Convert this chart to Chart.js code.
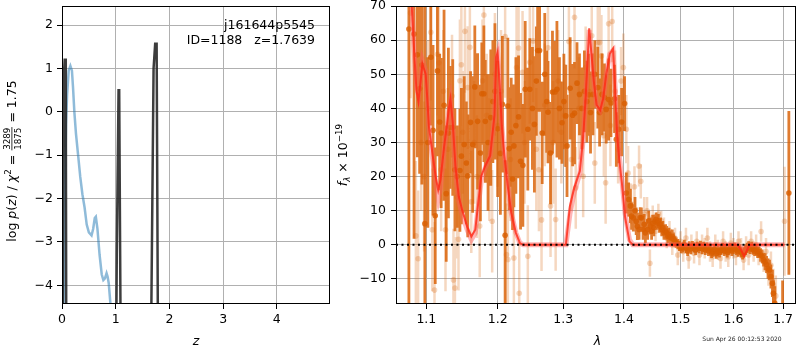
<!DOCTYPE html>
<html>
<head>
<meta charset="utf-8">
<script src="https://cdn.jsdelivr.net/npm/chart.js@4.4.1/dist/chart.umd.min.js"></script>
<style>
  html, body { margin: 0; padding: 0; background: #fff; }
  #wrap { position: relative; width: 800px; height: 350px; overflow: hidden; }
  #pz { position: absolute; left: 0; top: 0; }
  #spec { position: absolute; left: 331px; top: 0; }
</style>
</head>
<body>
<div id="wrap">
  <canvas id="pz" width="331" height="350"></canvas>
  <canvas id="spec" width="469" height="350"></canvas>
</div>
<script>
// ---- left panel: log p(z) and chi2 curves ----
const pzGrid  = [0.005, 0.03, 0.05, 0.07, 0.085, 0.99, 1.02, 1.053, 1.065, 1.11, 1.63, 1.705, 1.735, 1.762, 1.80, 4.99];
const pzLogP  = [-9, 0.73, 1.2, 1.2, -9, -9, -3.3, 0.5, 0.5, -9, -9, 1.0, 1.57, 1.57, -9, -9];

const chi2Grid = [0.025, 0.05, 0.075, 0.095, 0.125, 0.156, 0.185, 0.205, 0.23, 0.26, 0.30, 0.34, 0.38, 0.42, 0.46, 0.50,
                  0.55, 0.58, 0.61, 0.63, 0.66, 0.70, 0.74, 0.77, 0.80, 0.83, 0.85, 0.87, 0.90, 0.93];
const chi2Vals = [-5, -2.2, -0.3, 0.4, 0.95, 1.06, 0.95, 0.57, 0.0, -0.5, -1.0, -1.5, -1.9, -2.2, -2.6, -2.78,
                  -2.85, -2.7, -2.45, -2.42, -2.7, -3.3, -3.75, -3.88, -3.84, -3.72, -3.8, -3.95, -4.4, -5];

const zTicks    = [0, 1, 2, 3, 4];
const logPTicks = [-4, -3, -2, -1, 0, 1, 2];

// ---- right panel: spectrum ----
const specWave = [1.0768, 1.0836, 1.088, 1.091, 1.094, 1.098, 1.102, 1.106, 1.109, 1.112, 1.115, 1.118, 1.120, 1.124, 1.127, 1.130,
  1.132, 1.136, 1.139, 1.142, 1.146, 1.148, 1.152, 1.155, 1.157, 1.161, 1.164, 1.167, 1.171, 1.175, 1.177, 1.180,
  1.182, 1.186, 1.190, 1.193, 1.196, 1.200, 1.204, 1.207, 1.211, 1.215, 1.217, 1.220, 1.222, 1.224, 1.227, 1.231,
  1.234, 1.2375, 1.241, 1.245, 1.248, 1.252, 1.255, 1.258, 1.260, 1.263, 1.267, 1.271, 1.274, 1.276, 1.280, 1.283,
  1.287, 1.290, 1.294, 1.298, 1.301, 1.304, 1.306, 1.311, 1.315, 1.318, 1.322, 1.326, 1.330, 1.334, 1.338, 1.341,
  1.344, 1.348, 1.351, 1.356, 1.359, 1.363, 1.367, 1.370, 1.374, 1.378, 1.384, 1.387, 1.391, 1.396, 1.401,
  1.404, 1.408, 1.411, 1.413, 1.416, 1.419, 1.421, 1.423, 1.426, 1.428, 1.430, 1.433, 1.435, 1.437, 1.441, 1.443,
  1.446, 1.448, 1.450, 1.452, 1.454, 1.456, 1.458, 1.460, 1.462, 1.464, 1.466, 1.468, 1.470, 1.473, 1.475, 1.477,
  1.479, 1.481, 1.483, 1.485, 1.487, 1.490, 1.492, 1.495, 1.498, 1.501, 1.504, 1.507, 1.510, 1.513, 1.516, 1.519,
  1.522, 1.525, 1.528, 1.531, 1.534, 1.537, 1.540, 1.543, 1.546, 1.549, 1.552, 1.555, 1.558, 1.561, 1.564, 1.567,
  1.570, 1.573, 1.576, 1.579, 1.582, 1.585, 1.588, 1.591, 1.594, 1.597, 1.600, 1.603, 1.606, 1.609, 1.612, 1.615,
  1.618, 1.621, 1.624, 1.627, 1.630, 1.633, 1.636, 1.639, 1.642, 1.645, 1.648, 1.651, 1.654, 1.657, 1.660, 1.663,
  1.666, 1.669, 1.672, 1.675, 1.678, 1.680, 1.683, 1.699, 1.712];
const specFlux = [63.3, 61.8, 55.7, 45.8, 52.7, 6.2, 30, 55, 33.6, 8.5, 51, 36, 32.8, 40.9, 15, 32.8,
  34.4, 34.4, 22, 20, 21.8, 26, 29.4, 24, 20.2, 35.9, 29.4, 46.3, 36.2, 26.9, 44.3, 44.3,
  36.2, 30, 37.3, 42, 45, 34, 26.8, 41.2, 2.8, 40.7, 28.2, 33, 19.3, 29, 35, 37.5,
  24.5, 23.3, 45.6, 33.9, 45.6, 40, 35.3, 48, 57, 57, 32.8, 50, 42, 38.9, 26.9, 44.8,
  44.8, 45.6, 40, 35.8, 42, 37.8, 29, 45.9, 38, 38.6, 47.4, 44.1, 40, 45, 42, 44,
  38.8, 44.1, 50, 46.1, 38.8, 44.1, 43.2, 39.7, 42.6, 41.6, 42.8, 30.9, 33.9, 36, 41.4,
  15.2, 13.3, 11.4, 8.4, 7.9, 10, 6.9, 5.4, 4.5, 8, 7.9, 4.5, 6, 3.5, 4.5, 7,
  5.5, 4, 6.3, 5, 6.9, 7.5, 6.4, 7, 5.5, 6, 4.5, 5, 3.5, 4, 3.5, 2.5,
  3.0, 2.2, 2.0, 2.5, 1.6, 1.0, 0.6, 0.2, -0.3, -1.0, -0.8, 0.0, -1.0, -1.8, -0.5, -1.2,
  -0.4, -0.8, -1.5, -0.6, -1.0, -0.3, -1.2, -0.6, -1.5, -0.8, -1.8, -1.2, -2.4, -2.0, -1.3, -2.6,
  -1.8, -2.2, -1.5, -1.0, -1.8, -1.2, -2.2, -1.6, -1.0, -1.8, -1.2, -0.8, -1.5, -2.0, -1.4, -2.2,
  -2.8, -2.2, -1.5, -0.9, -0.5, -1.2, -0.6, -1.4, -1.8, -1.2, -2.4, -2.0, -3.0, -3.4, -4.4, -5.0,
  -5.8, -7.0, -7.4, -9.3, -11.3, -14.2, -17.2, -18.5, 15.2];
const specErr = [85, 60, 30, 25, 35, 70, 25, 20, 25, 20, 25, 20, 22, 28, 20, 25,
  18, 20, 18, 15, 18, 20, 20, 18, 18, 15, 20, 18, 20, 20, 15, 20,
  18, 20, 20, 18, 20, 20, 18, 20, 22, 20, 18, 16, 15, 18, 20, 18,
  20, 18, 20, 18, 15, 18, 20, 16, 18, 18, 15, 18, 15, 15, 15, 18,
  15, 20, 15, 12, 14, 15, 15, 15, 15, 15, 12, 12, 12, 12, 12, 12,
  12, 12, 10, 12, 10, 12, 10, 10, 12, 10, 10, 8, 10, 10, 8,
  6, 5, 5, 4, 4, 4, 4, 4, 3, 3, 3, 3, 3, 3, 3, 3,
  2.5, 2.5, 2.5, 2.5, 2, 2, 2, 2, 2, 2, 2, 2, 2, 2, 2, 2,
  2, 2, 2, 2, 2, 1.5, 1.5, 1.5, 1.5, 1.5, 1.5, 1.5, 1.5, 1.5, 1.5, 1.5,
  1.5, 1.5, 1.5, 1.5, 1.5, 1.5, 1.5, 1.5, 1.5, 1.5, 1.5, 1.5, 1.5, 1.5, 1.5, 1.5,
  1.5, 1.5, 1.5, 1.5, 1.5, 1.5, 1.5, 1.5, 1.5, 1.5, 1.5, 1.5, 1.5, 1.5, 1.5, 1.5,
  1.5, 1.5, 1.5, 1.5, 1.5, 1.5, 1.5, 1.5, 1.5, 1.5, 1.5, 1.5, 2, 2, 2, 2.5,
  2.5, 3, 3, 3.5, 4, 4, 5, 8, 24];

const rawWave = [1.079, 1.086, 1.089, 1.093, 1.097, 1.102, 1.106, 1.108, 1.111, 1.115, 1.117, 1.120, 1.123, 1.126, 1.129, 1.135,
  1.137, 1.139, 1.142, 1.144, 1.146, 1.148, 1.150, 1.153, 1.157, 1.160, 1.162, 1.166, 1.170, 1.174, 1.178, 1.180,
  1.184, 1.188, 1.192, 1.196, 1.200, 1.205, 1.211, 1.213, 1.215, 1.219, 1.224, 1.228, 1.231, 1.232, 1.237, 1.240,
  1.245, 1.248, 1.253, 1.258, 1.262, 1.266, 1.271, 1.276, 1.280, 1.284, 1.288, 1.292, 1.297, 1.302, 1.309, 1.313,
  1.318, 1.320, 1.325, 1.332, 1.336, 1.341, 1.346, 1.351, 1.356, 1.359, 1.362, 1.366, 1.369, 1.374, 1.377, 1.380,
  1.385, 1.390, 1.395, 1.399, 1.404, 1.407, 1.412, 1.418, 1.426, 1.429, 1.435, 1.440, 1.445, 1.450, 1.455, 1.460,
  1.465, 1.470, 1.475, 1.480, 1.485, 1.490, 1.495, 1.500, 1.505, 1.510, 1.515, 1.520, 1.525, 1.530, 1.535, 1.540,
  1.545, 1.550, 1.555, 1.560, 1.565, 1.570, 1.575, 1.580, 1.585, 1.590, 1.595, 1.600, 1.605, 1.610, 1.615, 1.620,
  1.625, 1.630, 1.635, 1.640, 1.645, 1.650, 1.655, 1.660, 1.665, 1.670, 1.675, 1.680, 1.685, 1.703];
const rawFlux = [68, 2.6, -4.1, 30, 20, 40, 62.3, 4.4, -13.3, 55.9, 53.4, 22, 45, 4.4, 28, 43.6,
  -10.3, -12.7, 14, 1.6, 48.1, 52.8, 33, 62.6, 46.1, 57.9, 12.6, 30, 20, 5.5, 48.1, 67.4,
  38, 25, 6.9, 50, 35, 45, 61.1, -2.9, -4.3, 25, -3.9, 52, 57.7, -14.2, 50.6, 30,
  -3.4, 53.5, 59.8, 28, 22, 7.3, 41, 57.8, 11.4, 30, 7.4, 48, 33, 38, 59.6, 25,
  66.7, 16.7, 40, 20.1, 52, 45, 61.3, 24, 59.3, 59.3, 55.4, 32, 18.2, 64.8, 35, 65.5,
  45, 28, 48, 52, 33.9, 21, 12, 17, 23.1, 18.6, 9, 10, -5.4, 8, 4, 9,
  7, 5, 2, 4, 0, 2, -3, 1, -2, 2, -4, 0, -2.5, 1, -3, 0,
  -1, 2, -2, -3.5, 0, -1.5, -4, 1, -2, -3.5, 0.5, -1, -3, 1, -1, -4.5,
  -0.5, -3, 1, -2, 0, -3, 3.9, -5, -2, -8, -6, -12, -15, 6.9];
const rawErr = [25, 22, 20, 20, 22, 20, 20, 18, 20, 18, 20, 18, 18, 18, 18, 18,
  15, 15, 18, 15, 18, 18, 18, 18, 18, 18, 15, 18, 18, 15, 18, 18,
  18, 18, 15, 18, 18, 18, 18, 15, 15, 18, 15, 18, 18, 15, 18, 18,
  15, 18, 18, 18, 18, 15, 18, 18, 15, 18, 15, 15, 15, 15, 15, 15,
  15, 12, 15, 12, 12, 12, 12, 12, 12, 12, 12, 12, 12, 12, 12, 12,
  12, 10, 10, 10, 10, 8, 6, 6, 6, 5, 5, 4, 4, 3.5, 3, 3,
  3, 3, 3, 3, 3, 3, 3, 3, 3, 3, 3, 3, 3, 3, 3, 3,
  3, 3, 3, 3, 3, 3, 3, 3, 3, 3, 3, 3, 3, 3, 3, 3,
  3, 3, 3, 3, 3, 3, 3, 3, 4, 4, 4, 5, 6, 16];

const modelWave = [1.078, 1.0806, 1.0836, 1.0867, 1.0894, 1.0947, 1.0991, 1.1013, 1.1034, 1.108, 1.1125, 1.116, 1.1192, 1.1237, 1.1306, 1.1328,
  1.136, 1.1397, 1.1443, 1.149, 1.156, 1.1621, 1.1677, 1.1724, 1.1762, 1.1819, 1.1891, 1.1953, 1.198, 1.200, 1.203, 1.206,
  1.210, 1.215, 1.220, 1.227, 1.233, 1.238, 1.3042, 1.3106, 1.3176, 1.3266, 1.332, 1.3363, 1.3418, 1.3455, 1.3494, 1.354,
  1.360, 1.365, 1.370, 1.376, 1.3814, 1.385, 1.388, 1.392, 1.3965, 1.402, 1.4094, 1.4153, 1.608, 1.615, 1.621, 1.627,
  1.632, 1.703];
const modelFlux = [76, 70, 57.4, 45.5, 42, 53, 50, 42.7, 34.9, 27, 20.1, 16, 19.1, 28, 39.7, 42.7,
  35.8, 23.1, 14.2, 10.3, 5.4, 2.4, 4.4, 13.2, 20.1, 23.1, 26.1, 37.9, 55, 56.5, 47, 35,
  26, 17, 9.4, 3.5, 0.5, 0, 0, 11.3, 16.7, 21.6, 31.4, 44.1, 63.5, 56, 48, 41,
  39.5, 43, 50, 56, 57.5, 46, 33, 25, 18, 8, 1, 0, 0, -1.5, -3.4, -1.5,
  0, 0];
const modelFluxBroad = [76, 70, 57.4, 46, 44, 54, 51, 43, 35, 26, 18, 13.5, 17, 27, 39, 42,
  35, 22, 13, 9, 4.5, 1.5, 3.5, 12, 19, 22.5, 26, 37, 54.5, 56, 47, 35,
  26, 17, 9.4, 3.5, 0.5, 0, 0, 9, 15.5, 21, 31, 44, 63, 56, 48, 41,
  39.5, 43, 50, 56, 57, 46, 33.5, 26, 19, 9, 1.5, 0, 0, -0.7, -1.5, -0.7,
  0, 0];

const zeroWave = [1.06, 1.727];
const zeroFlux = [0, 0];

const lamTicks  = [1.1, 1.2, 1.3, 1.4, 1.5, 1.6, 1.7];
const fluxTicks = [-10, 0, 10, 20, 30, 40, 50, 60, 70];

// ---- helpers ----
Chart.defaults.font.family = "'DejaVu Sans', sans-serif";
Chart.defaults.font.size = 12.5;
Chart.defaults.color = '#000';
Chart.defaults.animation = false;

const DARK = 'rgba(217,95,2,0.82)';
const LIGHT = 'rgba(217,95,2,0.25)';

function xy(xs, ys) {
  return xs.map((x, i) => ({x: x, y: ys[i]}));
}

function errorSegments(xs, ys, es) {
  const out = [];
  xs.forEach((x, i) => {
    out.push({x: x, y: ys[i] - es[i]}, {x: x, y: ys[i] + es[i]}, {x: x, y: null});
  });
  return out;
}

const minus = v => (v < 0 ? '\u2212' + (-v) : '' + v);

function axis(type, min, max, size, ticks, fmt, pad) {
  return {
    type: type, min: min, max: max,
    grid: {color: '#b0b0b0', lineWidth: 1, tickColor: '#000', tickLength: 5, tickWidth: 1},
    border: {display: false},
    ticks: {padding: pad, autoSkip: false, maxRotation: 0, callback: fmt},
    afterBuildTicks(scale) { scale.ticks = ticks.map(v => ({value: v})); },
    afterFit(scale) {
      if (scale.isHorizontal()) scale.height = size; else scale.width = size;
      scale.paddingTop = scale.paddingBottom = scale.paddingLeft = scale.paddingRight = 0;
    }
  };
}

function fontOf(r) {
  return (r.it ? 'italic ' : '') + (r.size || 12.5) + "px 'DejaVu Sans'";
}

// draws a row of text pieces (with optional fraction) around (x, y)
function drawRuns(ctx, x, y, angle, align, runs) {
  ctx.save();
  ctx.translate(x, y);
  ctx.rotate(angle);
  ctx.fillStyle = '#000';
  ctx.textBaseline = 'alphabetic';
  const widths = runs.map(r => {
    ctx.font = fontOf(r);
    if (r.frac) return Math.max(ctx.measureText(r.frac[0]).width, ctx.measureText(r.frac[1]).width) + 2;
    return ctx.measureText(r.t).width;
  });
  const total = widths.reduce((a, b) => a + b, 0);
  let cx = align === 'center' ? -total / 2 : (align === 'right' ? -total : 0);
  runs.forEach((r, i) => {
    ctx.font = fontOf(r);
    if (r.frac) {
      ctx.textAlign = 'center';
      ctx.fillText(r.frac[0], cx + widths[i] / 2, -5.6);
      ctx.fillText(r.frac[1], cx + widths[i] / 2, 4.6);
      ctx.fillRect(cx + 0.5, -4.5, widths[i] - 1, 0.8);
    } else {
      ctx.textAlign = 'left';
      ctx.fillText(r.t, cx, r.dy || 0);
    }
    cx += widths[i];
  });
  ctx.restore();
}

const framePlugin = {
  id: 'frame',
  afterDatasetsDraw(chart) {
    const {ctx, chartArea: a} = chart;
    ctx.save();
    ctx.strokeStyle = '#000';
    ctx.lineWidth = 1;
    ctx.strokeRect(a.left + 0.5, a.top + 0.5, a.right - a.left - 1, a.bottom - a.top - 1);
    ctx.restore();
  }
};

const pzText = {
  id: 'pzText',
  afterDraw(chart) {
    const ctx = chart.ctx;
    drawRuns(ctx, 315, 29, 0, 'right', [{t: 'j161644p5545'}]);
    drawRuns(ctx, 315, 43.5, 0, 'right', [{t: 'ID=1188   z=1.7639'}]);
    drawRuns(ctx, 196, 344.5, 0, 'center', [{t: 'z', it: true}]);
    drawRuns(ctx, 16, 161, -Math.PI / 2, 'center', [
      {t: 'log '}, {t: 'p', it: true}, {t: '('}, {t: 'z', it: true}, {t: ') / '},
      {t: '\u03c7', it: true}, {t: '2', size: 8.75, dy: -5}, {t: ' = '},
      {frac: ['3289', '1875'], size: 8.75}, {t: ' = 1.75'}
    ]);
  }
};

const specText = {
  id: 'specText',
  afterDraw(chart) {
    const ctx = chart.ctx;
    drawRuns(ctx, 266.5, 345, 0, 'center', [{t: '\u03bb', it: true}]);
    drawRuns(ctx, 16, 155, -Math.PI / 2, 'center', [
      {t: 'f', it: true}, {t: '\u03bb', it: true, size: 8.75, dy: 2.5},
      {t: ' \u00d7 10'}, {t: '\u221219', size: 8.75, dy: -5}
    ]);
    ctx.save();
    ctx.font = "6px 'DejaVu Sans'";
    ctx.fillStyle = '#222';
    ctx.textAlign = 'center';
    ctx.fillText('Sun Apr 26 00:12:53 2020', 411, 341);
    ctx.restore();
  }
};

// ---- left chart ----
new Chart(document.getElementById('pz'), {
  type: 'scatter',
  data: {
    datasets: [
      {type: 'line', data: xy(pzGrid, pzLogP), borderColor: 'rgba(40,40,40,0.9)', borderWidth: 2.5,
       pointRadius: 0, clip: 0, order: 0},
      {type: 'line', data: xy(chi2Grid, chi2Vals), borderColor: 'rgba(31,119,180,0.5)', borderWidth: 2.5,
       pointRadius: 0, clip: 0, order: 1}
    ]
  },
  options: {
    responsive: false,
    events: [],
    layout: {padding: {left: 0, right: 1, top: 6, bottom: 0}},
    plugins: {legend: {display: false}, tooltip: {enabled: false}},
    scales: {
      x: axis('linear', 0, 4.99, 46, zTicks, v => '' + v, 3),
      y: axis('linear', -4.43, 2.44, 62, logPTicks, minus, 4)
    }
  },
  plugins: [framePlugin, pzText]
});

// ---- right chart ----
new Chart(document.getElementById('spec'), {
  type: 'scatter',
  data: {
    datasets: [
      {type: 'line', data: xy(zeroWave, zeroFlux), borderColor: '#000', borderWidth: 2, borderDash: [2, 3.5],
       pointRadius: 0, clip: 0, order: 0},
      {type: 'line', data: xy(modelWave, modelFlux), borderColor: 'rgba(255,40,20,0.8)', borderWidth: 2,
       pointRadius: 0, clip: 0, order: 1},
      {type: 'line', data: xy(modelWave, modelFluxBroad), borderColor: 'rgba(255,90,90,0.45)', borderWidth: 5,
       pointRadius: 0, clip: 0, order: 2},
      {type: 'scatter', data: xy(specWave, specFlux), pointRadius: 2.8, pointBackgroundColor: DARK,
       pointBorderWidth: 0, clip: 0, order: 3},
      {type: 'line', data: errorSegments(specWave, specFlux, specErr), borderColor: DARK, borderWidth: 2.8,
       borderCapStyle: 'butt', pointRadius: 0, spanGaps: false, clip: 0, order: 4},
      {type: 'scatter', data: xy(rawWave, rawFlux), pointRadius: 2.8, pointBackgroundColor: LIGHT,
       pointBorderWidth: 0, clip: 0, order: 5},
      {type: 'line', data: errorSegments(rawWave, rawFlux, rawErr), borderColor: LIGHT, borderWidth: 2.5,
       borderCapStyle: 'butt', pointRadius: 0, spanGaps: false, clip: 0, order: 6}
    ]
  },
  options: {
    responsive: false,
    events: [],
    layout: {padding: {left: 0, right: 1, top: 6, bottom: 0}},
    plugins: {legend: {display: false}, tooltip: {enabled: false}},
    scales: {
      x: axis('logarithmic', 1.06, 1.727, 46, lamTicks, v => Number(v).toFixed(1), 3),
      y: axis('linear', -17.37, 70.03, 65, fluxTicks, minus, 5)
    }
  },
  plugins: [framePlugin, specText]
});
</script>
</body>
</html>
